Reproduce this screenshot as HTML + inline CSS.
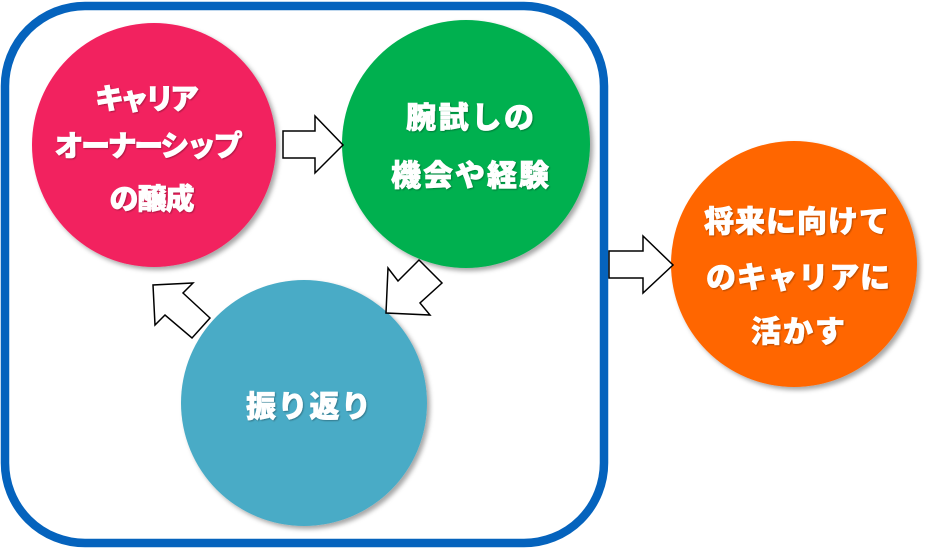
<!DOCTYPE html>
<html>
<head>
<meta charset="utf-8">
<style>
html,body{margin:0;padding:0;background:#fff;}
svg{display:block;}
text{font-family:"Noto Sans CJK JP","Liberation Sans",sans-serif;font-weight:900;fill:#fff;stroke:#fff;stroke-width:0.7px;font-size:30px;}
</style>
</head>
<body>
<svg width="940" height="560" viewBox="0 0 940 560" xmlns="http://www.w3.org/2000/svg">
<defs>
<filter id="sh" x="-20%" y="-20%" width="140%" height="140%">
<feDropShadow dx="3" dy="3" stdDeviation="2.5" flood-color="#000" flood-opacity="0.35"/>
</filter>
<filter id="tsh" x="-10%" y="-30%" width="120%" height="160%">
<feDropShadow dx="1" dy="1" stdDeviation="0.8" flood-color="#000" flood-opacity="0.3"/>
</filter>
</defs>

<rect x="5" y="6" width="599" height="537" rx="80" ry="80" fill="none" stroke="#0563BD" stroke-width="8.5"/>

<circle cx="154" cy="145" r="122" fill="#F2215F" filter="url(#sh)"/>
<circle cx="466" cy="144" r="124" fill="#00B050" filter="url(#sh)"/>
<circle cx="304" cy="403" r="123" fill="#4AABC6" filter="url(#sh)"/>
<circle cx="794" cy="264" r="123" fill="#FF6600" filter="url(#sh)"/>

<g fill="#fff" stroke="#000" stroke-width="1.5" stroke-linejoin="miter">
<polygon points="283,131 315,131 315,116 343,145 315,173 315,158 283,158"/>
<polygon points="609,251 643,251 643,236 673,265 643,293 643,278 609,278"/>
<polygon points="419,260 442,283 420,303 430,315 386,313 388,268 398,281"/>
<polygon points="183,293 210,318 192,338 165,315 155,325 153,285 193,283"/>
</g>

<g filter="url(#tsh)">
<text x="147" y="109" text-anchor="middle" textLength="104" lengthAdjust="spacing" style="font-size:29px">キャリア</text>
<text x="148.5" y="156" text-anchor="middle" textLength="188" lengthAdjust="spacing" style="font-size:29px">オーナーシップ</text>
<text x="152" y="209" text-anchor="middle" textLength="85" lengthAdjust="spacing" style="font-size:29px">の醸成</text>

<text x="470" y="128" text-anchor="middle" textLength="128" lengthAdjust="spacing">腕試しの</text>
<text x="470" y="186" text-anchor="middle" textLength="158" lengthAdjust="spacing">機会や経験</text>

<text x="308.5" y="417" text-anchor="middle" textLength="125" lengthAdjust="spacing">振り返り</text>

<text x="796.5" y="232" text-anchor="middle" textLength="185" lengthAdjust="spacing">将来に向けて</text>
<text x="798" y="288" text-anchor="middle" textLength="184" lengthAdjust="spacing">のキャリアに</text>
<text x="798" y="342" text-anchor="middle" textLength="94" lengthAdjust="spacing">活かす</text>
</g>
</svg>
</body>
</html>
